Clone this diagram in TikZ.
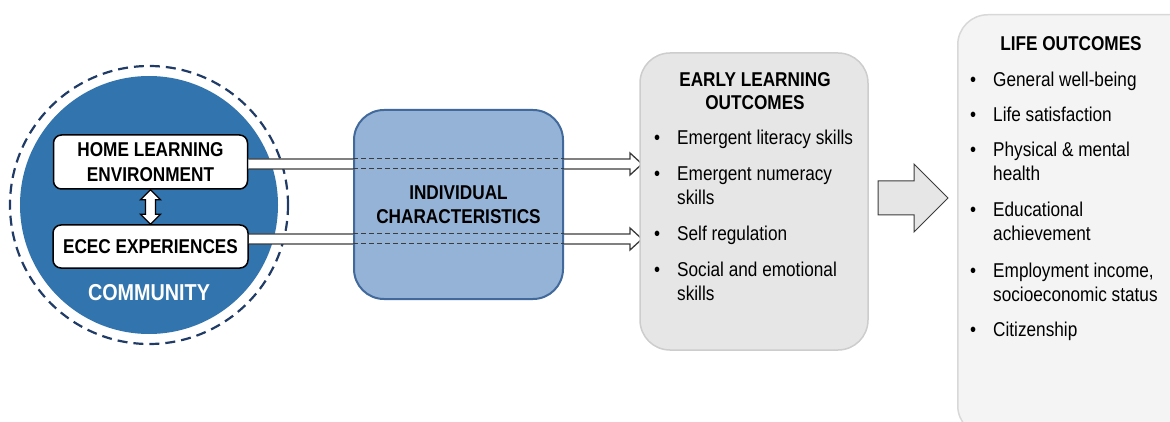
\documentclass[tikz,border=0pt]{standalone}
\usepackage{fontspec}
\setmainfont{Liberation Sans}[FakeStretch=0.86]
\usetikzlibrary{positioning,calc}

\definecolor{commblue}{HTML}{3274AD}
\definecolor{ringblue}{HTML}{1F3B66}
\definecolor{indfill}{HTML}{95B3D7}
\definecolor{indline}{HTML}{41699B}
\definecolor{elofill}{HTML}{E6E6E6}
\definecolor{eloline}{HTML}{CDCDCD}
\definecolor{lifefill}{HTML}{F4F4F4}
\definecolor{lifeline}{HTML}{D8D8D8}
\definecolor{arrowgray}{HTML}{3C3C3C}

% bullet list helpers
\newcommand{\bitem}[1]{\makebox[23pt][l]{\textbullet}#1}
\newcommand{\bcont}[1]{\hspace*{23pt}#1}

% hollow arrow from #1 to the tip #2
\newcommand{\hollowarrow}[2]{%
  \draw[hollow] ($(#1)+(0,-5)$) -- ($(#2)+(-12,-5)$) -- ($(#2)+(-12,-11)$)
    -- (#2) -- ($(#2)+(-12,11)$) -- ($(#2)+(-12,5)$) -- ($(#1)+(0,5)$);}

\begin{document}
\begin{tikzpicture}[x=1pt, y=-1pt,
  every node/.style={font=\fontsize{20}{24}\selectfont, inner sep=0pt},
  whitebox/.style={draw=black, line width=1.5pt, fill=white, rounded corners=8pt,
    align=center, font=\fontsize{20}{25}\selectfont\bfseries},
  outbox/.style={rounded corners=30pt, line width=1.5pt},
  title/.style={align=center, font=\fontsize{20}{23.5}\selectfont\bfseries},
  hollow/.style={draw=arrowgray, line width=1.3pt, fill=white, line join=miter},
  cross/.style={draw=arrowgray, line width=1pt, dash pattern=on 5pt off 3pt},
]
\useasboundingbox (0,0) rectangle (1170,422);
\clip (0,0) rectangle (1170,422);

% Community circle
\node[circle, fill=commblue, minimum size=258pt] (comm) at (149,205) {};
\draw[ringblue, line width=2.2pt, dash pattern=on 10pt off 6pt] (comm.center) circle (139);

\node[whitebox, minimum width=194pt, minimum height=54pt] (hle) at (150.5,162) {HOME LEARNING\\ENVIRONMENT};
\node[whitebox, minimum width=195pt, minimum height=43pt] (ecec) at (150.5,246.5) {ECEC EXPERIENCES};
\node[text=white, font=\fontsize{23}{27}\selectfont\bfseries] (commlabel) at (149,293) {COMMUNITY};

% two-way arrow
\draw[fill=white, line width=1.3pt, line join=miter] (hle.south) -- ++(10,10) -- ++(-5,0)
  -- ($(ecec.north)+(5,-10)$) -- ++(5,0) -- (ecec.north) -- ++(-10,-10) -- ++(5,0)
  -- ($(hle.south)+(-5,10)$) -- ++(-5,0) -- cycle;

% Arrows to early learning outcomes
\coordinate (hletip) at (642,164);
\coordinate (ecectip) at (642,239);
\coordinate (hlestart) at (hle.east |- hletip);
\coordinate (ececstart) at (ecec.east |- ecectip);
\hollowarrow{hlestart}{hletip}
\hollowarrow{ececstart}{ecectip}

% Individual characteristics
\node[outbox, draw=indline, fill=indfill, line width=2pt, minimum width=209pt,
  minimum height=189pt, title] (ind) at (458.5,204.5) {INDIVIDUAL\\CHARACTERISTICS};
\foreach \tip in {hletip, ecectip}{
  \foreach \dy in {-5,5}
    \draw[cross] ($(ind.west |- \tip)+(0,\dy)$) -- ($(ind.east |- \tip)+(0,\dy)$);
}

% Early learning outcomes
\node[outbox, draw=eloline, fill=elofill, minimum width=228pt, minimum height=297pt] (elo) at (754,201.5) {};
\node[title] (elotitle) at (755,91) {EARLY LEARNING\\OUTCOMES};
\node[anchor=base west] (elolist) at (654,145) {\begin{tabular}[t]{@{}l@{}}
  \bitem{Emergent literacy skills}\\[12pt]
  \bitem{Emergent numeracy}\\
  \bcont{skills}\\[12pt]
  \bitem{Self regulation}\\[12pt]
  \bitem{Social and emotional}\\
  \bcont{skills}
\end{tabular}};

% Big arrow
\coordinate (bigtail) at (878,198);
\coordinate (bigtip) at (948,198);
\draw[fill=elofill, draw=arrowgray, line width=1pt, line join=miter]
  ($(bigtail)+(0,-17)$) -- ($(bigtip)+(-34,-17)$) -- ($(bigtip)+(-34,-34)$) -- (bigtip)
  -- ($(bigtip)+(-34,34)$) -- ($(bigtip)+(-34,17)$) -- ($(bigtail)+(0,17)$) -- cycle;

% Life outcomes
\node[outbox, draw=lifeline, fill=lifefill, minimum width=250pt, minimum height=421pt,
  anchor=north west] (life) at (957,14) {};
\node[title] (lifetitle) at (1071,44) {LIFE OUTCOMES};
\node[anchor=base west] (lifelist) at (970,87) {\begin{tabular}[t]{@{}l@{}}
  \bitem{General well-being}\\[11pt]
  \bitem{Life satisfaction}\\[11pt]
  \bitem{Physical \& mental}\\
  \bcont{health}\\[12pt]
  \bitem{Educational}\\
  \bcont{achievement}\\[13pt]
  \bitem{Employment income,}\\
  \bcont{socioeconomic status}\\[11pt]
  \bitem{Citizenship}
\end{tabular}};

\end{tikzpicture}
\end{document}
